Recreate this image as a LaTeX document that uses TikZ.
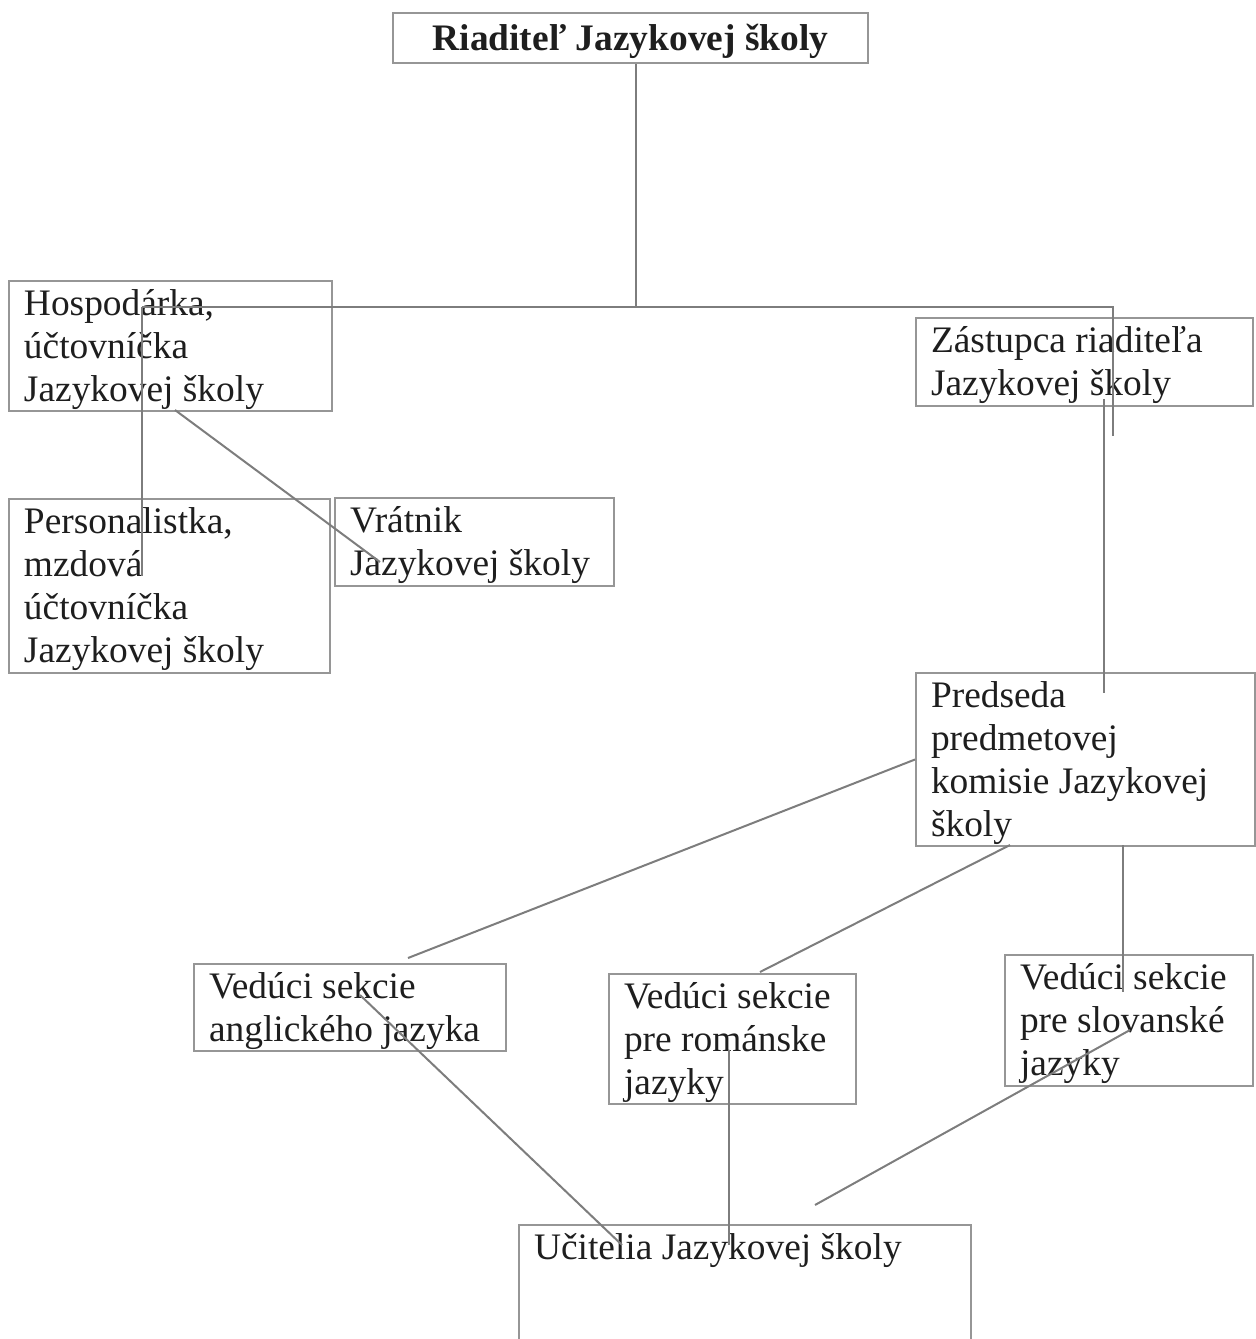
\documentclass[tikz,border=0pt]{standalone}
\usepackage{fontspec}
\setmainfont{Liberation Serif}
\definecolor{boxgray}{RGB}{150,150,150}
\definecolor{linkgray}{RGB}{125,125,125}
\definecolor{ink}{RGB}{30,30,30}

\begin{document}
\begin{tikzpicture}[x=.5pt,y=-.5pt,
   box/.style={draw=boxgray, line width=1pt, text=ink, anchor=north west, align=flush left,
      inner xsep=7.5pt, inner ysep=0pt, font=\fontsize{18.7}{21.5}\selectfont,
      execute at begin node={\rule{0pt}{16.5pt}}},
   link/.style={draw=linkgray, line width=1pt}]
   \useasboundingbox (0,0) rectangle (1255,1339);

   \node[box, align=center, minimum width=237.5pt, minimum height=25pt,
      execute at begin node={}, font=\fontsize{18.7}{21.5}\selectfont\bfseries] (boss) at (392,12) {Riaditeľ Jazykovej školy};

   \node[box, text width=146.5pt, minimum height=65pt] (hosp) at (8,280) {Hospodárka,\\ účtovníčka\\ Jazykovej školy};
   \node[box, text width=153.5pt, minimum height=44pt] (zast) at (915,317) {Zástupca riaditeľa\\ Jazykovej školy};
   \node[box, text width=145.5pt, minimum height=87pt] (pers) at (8,498) {Personalistka,\\ mzdová\\ účtovníčka\\ Jazykovej školy};
   \node[box, text width=124.5pt, minimum height=44pt] (vrat) at (334,497) {Vrátnik\\ Jazykovej školy};
   \node[box, text width=154.5pt, minimum height=86.5pt] (pred) at (915,672) {Predseda\\ predmetovej\\ komisie Jazykovej\\ školy};
   \node[box, text width=141pt, minimum height=43.5pt] (angl) at (193,963) {Vedúci sekcie\\ anglického jazyka};
   \node[box, text width=108.5pt, minimum height=65pt] (roma) at (608,973) {Vedúci sekcie\\ pre románske\\ jazyky};
   \node[box, text width=109pt, minimum height=65.5pt] (slov) at (1004,954) {Vedúci sekcie\\ pre slovanské\\ jazyky};
   \node[box, text width=211pt, text height=17pt, text depth=45pt] (ucit) at (518,1224) {Učitelia Jazykovej školy};

   \coordinate (top) at (636,307);
   \coordinate (left) at (142,307);
   \coordinate (right) at (1113,307);
   \coordinate (rightend) at (1113,436);
   \coordinate (persend) at (142,576);
   \coordinate (hospout) at (175,410);
   \coordinate (vratend) at (380,562);
   \coordinate (zastout) at (1104,399);
   \coordinate (predend) at (1104,693);
   \coordinate (anglend) at (408,958);
   \coordinate (predout) at (1010,845);
   \coordinate (romaend) at (760,972);
   \coordinate (predvert) at (1123,845);
   \coordinate (slovend) at (1123,992);
   \coordinate (anglout) at (360,995);
   \coordinate (ucit1) at (622,1245);
   \coordinate (romaout) at (729,1050);
   \coordinate (ucit2) at (729,1245);
   \coordinate (slovout) at (1130,1030);
   \coordinate (ucit3) at (815,1205);

   \draw[link] (boss.south -| top) -- (top);
   \draw[link] (left) -- (right) -- (rightend);
   \draw[link] (pred.west) -- (anglend);
   \foreach \a/\b in {left/persend, hospout/vratend, zastout/predend, predout/romaend,
      predvert/slovend, anglout/ucit1, romaout/ucit2, slovout/ucit3}
   \draw[link] (\a) -- (\b);

\end{tikzpicture}
\end{document}
